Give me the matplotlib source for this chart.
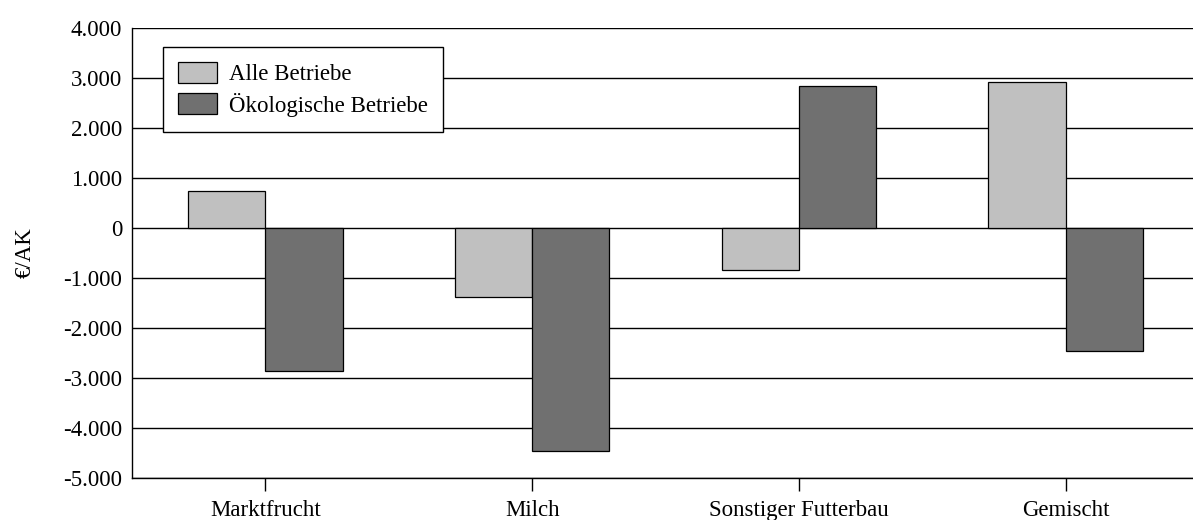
import numpy as np
import matplotlib.pyplot as plt
from matplotlib.ticker import FuncFormatter, MultipleLocator

categories = ["Marktfrucht", "Milch", "Sonstiger Futterbau", "Gemischt"]
alle = [740, -1380, -850, 2920]
oeko = [-2850, -4450, 2830, -2460]
series_names = ["Alle Betriebe", "Ökologische Betriebe"]

plt.rcParams['font.family'] = ['Liberation Serif', 'DejaVu Serif']
plt.rcParams['font.size'] = 16.5

fig = plt.figure(figsize=(11.93, 5.2), dpi=100)
# plot area runs past the right edge of the picture, like the original crop
ax = fig.add_axes([132 / 1193, 1 - 478 / 520, (1199 - 132) / 1193, 450 / 520])

x = np.arange(len(categories))
w = 0.29
ax.bar(x - w / 2, alle, w, color="#c0c0c0", edgecolor="black", linewidth=0.9,
       label=series_names[0], zorder=3)
ax.bar(x + w / 2, oeko, w, color="#707070", edgecolor="black", linewidth=0.9,
       label=series_names[1], zorder=3)

ax.set_xlim(-0.5, 3.5)
ax.set_ylim(-5000, 4000)
ax.yaxis.set_major_locator(MultipleLocator(1000))
ax.yaxis.set_major_formatter(FuncFormatter(lambda v, p: f"{int(v):,}".replace(",", ".")))
ax.grid(axis="y", color="black", linewidth=1.0, zorder=0)
ax.set_axisbelow(True)

for s in ["top", "right"]:
    ax.spines[s].set_visible(False)
ax.spines["left"].set_linewidth(1.0)
ax.spines["bottom"].set_linewidth(1.0)

ax.set_xticks(x)
ax.set_xticklabels(categories)
ax.tick_params(axis="x", length=9, width=1, pad=7, direction="out")
ax.tick_params(axis="y", length=0, pad=7)
ax.set_ylabel("€/AK", labelpad=20)

leg = ax.legend(loc="upper left", bbox_to_anchor=(31 / 1067, 1 - 19 / 450),
                frameon=True, fancybox=False, shadow=False, edgecolor="black",
                framealpha=1, handlelength=1.7, handleheight=1.05,
                borderpad=0.65, labelspacing=0.32, handletextpad=0.55,
                borderaxespad=0)
leg.get_frame().set_linewidth(1.0)

fig.savefig("out.png", dpi=100)
